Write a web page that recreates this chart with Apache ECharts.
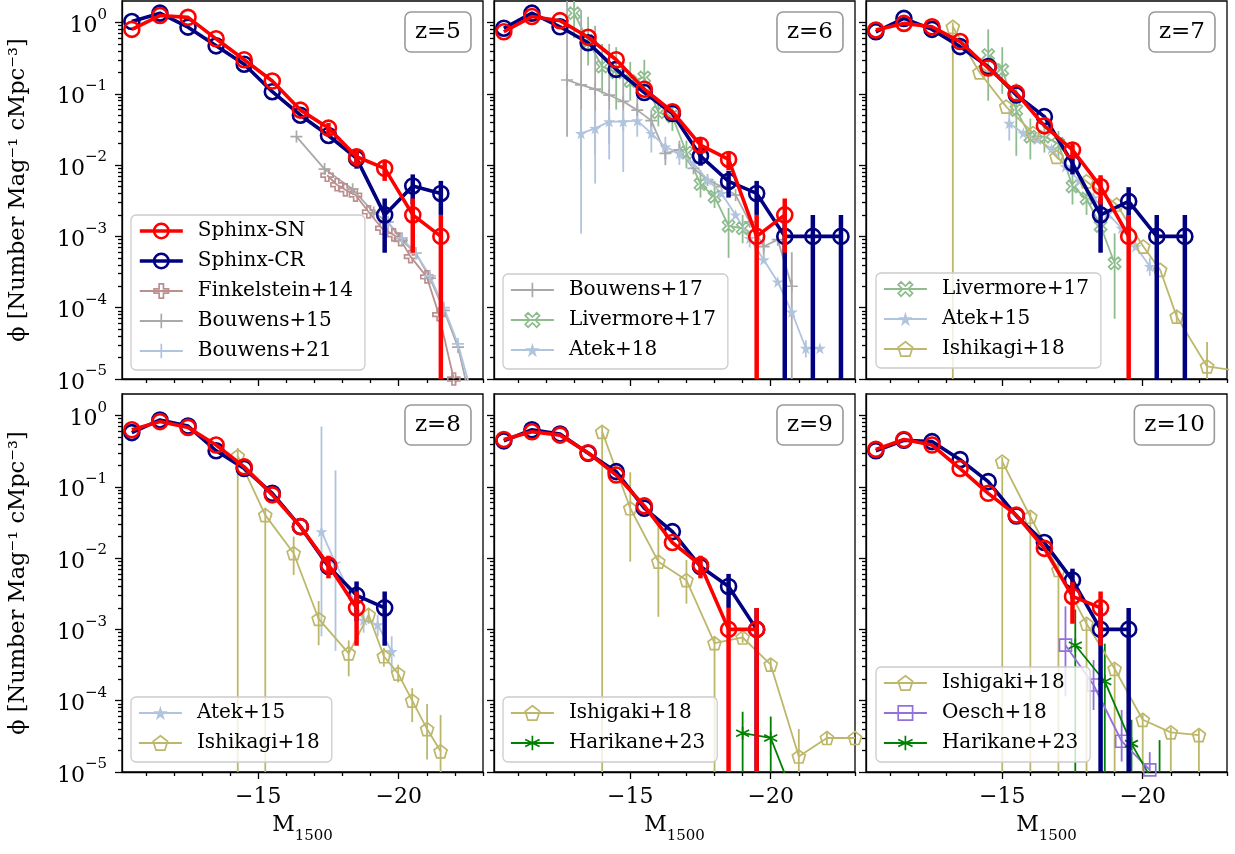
<!DOCTYPE html>
<html>
<head>
<meta charset="utf-8">
<script src="https://cdn.jsdelivr.net/npm/echarts@6/dist/echarts.min.js"></script>
<style>
  html, body { margin: 0; padding: 0; background: #fff; }
  #chart { width: 1235px; height: 854px; }
</style>
</head>
<body>
<div id="chart"></div>
<script>
// ---- data (phi in Number / mag / cMpc^3, errors as [lo, hi], lo = 0 means down to the floor) ----
const sphinxM = [-10.5, -11.5, -12.5, -13.5, -14.5, -15.5, -16.5, -17.5, -18.5, -19.5, -20.5, -21.5, -22.5];

const snPhi5 = [0.80, 1.25, 1.18, 0.59, 0.30, 0.151, 0.059, 0.033, 0.0131, 0.0090, 0.0020, 0.0010];
const snErr5 = [null, null, null, null, null, null, null, [0.027, 0.039], [0.0095, 0.0167], [0.006, 0.012], [0.00059, 0.0034], [0, 0.002]];
const crPhi5 = [1.03, 1.35, 0.86, 0.47, 0.26, 0.107, 0.050, 0.026, 0.0124, 0.0020, 0.0051, 0.0040];
const crErr5 = [null, null, null, null, null, null, null, null, [0.0089, 0.0159], [0.00059, 0.0034], [0.0028, 0.0074], [0.002, 0.006]];

const snPhi6 = [0.74, 1.21, 1.06, 0.62, 0.30, 0.116, 0.056, 0.019, 0.012, 0.0010, 0.0020];
const snErr6 = [null, null, null, null, null, null, null, [0.0147, 0.0233], [0.0085, 0.0155], [0, 0.002], [0.00059, 0.0034]];
const crPhi6 = [0.83, 1.35, 0.87, 0.52, 0.22, 0.104, 0.053, 0.0134, 0.0059, 0.0040, 0.0010, 0.0010, 0.0010];
const crErr6 = [null, null, null, null, null, null, null, [0.0098, 0.017], [0.0035, 0.0083], [0.002, 0.006], [0, 0.002], [0, 0.002], [0, 0.002]];

const snPhi7 = [0.785, 0.97, 0.87, 0.54, 0.23, 0.102, 0.0355, 0.0163, 0.0050, 0.0010];
const snErr7 = [null, null, null, null, null, null, null, [0.0123, 0.0203], [0.0028, 0.0072], [0, 0.002]];
const crPhi7 = [0.74, 1.14, 0.80, 0.458, 0.24, 0.096, 0.0478, 0.0106, 0.0020, 0.0031, 0.0010, 0.0010];
const crErr7 = [null, null, null, null, null, null, null, [0.0074, 0.0138], [0.00059, 0.0034], [0.0013, 0.0049], [0, 0.002], [0, 0.002]];

const snPhi8 = [0.63, 0.82, 0.68, 0.385, 0.19, 0.077, 0.0276, 0.0080, 0.0020];
const snErr8 = [null, null, null, null, null, null, null, [0.0052, 0.0108], [0.00059, 0.0034]];
const crPhi8 = [0.575, 0.865, 0.71, 0.32, 0.18, 0.081, 0.0276, 0.0076, 0.0030, 0.0020];
const crErr8 = [null, null, null, null, null, null, null, null, [0.0013, 0.0047], [0.00059, 0.0034]];

const snPhi9 = [0.46, 0.59, 0.53, 0.30, 0.146, 0.054, 0.0165, 0.0080, 0.0010, 0.0010];
const snErr9 = [null, null, null, null, null, null, null, [0.0052, 0.0108], [0, 0.002], [0, 0.002]];
const crPhi9 = [0.44, 0.63, 0.55, 0.295, 0.163, 0.050, 0.0235, 0.0076, 0.0040, 0.0010];
const crErr9 = [null, null, null, null, null, null, null, null, [0.002, 0.006], [0, 0.002]];

const snPhi10 = [0.335, 0.46, 0.385, 0.18, 0.081, 0.040, 0.0137, 0.0029, 0.0020];
const snErr10 = [null, null, null, null, null, null, null, [0.0012, 0.0046], [0.00059, 0.0034]];
const crPhi10 = [0.32, 0.45, 0.43, 0.24, 0.118, 0.039, 0.0165, 0.0049, 0.0010, 0.0010];
const crErr10 = [null, null, null, null, null, null, null, [0.0027, 0.0071], [0, 0.002], [0, 0.002]];

// z=5 observations
const fink14M = [-17.45, -17.8, -18.1, -18.46, -18.93, -19.4, -19.82, -20.06, -20.42, -21.0, -21.43, -21.96];
const fink14Phi = [0.0072, 0.0053, 0.0045, 0.0038, 0.0022, 0.0013, 0.00105, 0.0009, 0.00052, 0.00027, 0.00008, 0.00001];
const bouw15M = [-16.36, -17.36, -18.36, -19.11, -19.61, -20.11, -20.61, -21.11, -21.61, -22.11, -22.61];
const bouw15Phi = [0.0251, 0.0088, 0.0046, 0.00216, 0.00159, 0.00088, 0.00058, 0.00026, 0.000092, 0.000028, 0.000004];
const bouw21M = [-19.61, -20.11, -20.61, -21.11, -21.61, -22.11, -22.61];
const bouw21Phi = [0.0016, 0.00095, 0.00058, 0.00028, 0.0001, 0.000031, 0.000006];

// z=6 observations
const bouw17M = [-12.75, -13.25, -13.75, -14.25, -14.75, -15.25, -15.75, -16.25, -16.75, -17.25, -17.75, -18.25, -18.75, -19.25, -19.75, -20.25, -20.75];
const bouw17Phi = [0.156, 0.133, 0.116, 0.096, 0.078, 0.059, 0.042, 0.0146, 0.0163, 0.009, 0.0062, 0.005, 0.0038, 0.0016, 0.00072, 0.0009, 0.0002];
const bouw17Err = [[0.025, 3], [0.0085, 1.5], [0.014, 0.9], [0.02, 0.5], [0.03, 0.22], [0.04, 0.09], [0.03, 0.06], [0.01, 0.02], [0.012, 0.022], null, null, null, null, null, [0.0005, 0.001], null, [0.00001, 0.0006]];
const liv17M6 = [-13.0, -13.5, -14.0, -14.5, -15.0, -15.5, -16.0, -16.5, -17.0, -17.5, -18.0, -18.5, -19.0];
const liv17Phi6 = [1.35, 0.55, 0.24, 0.20, 0.15, 0.17, 0.055, 0.048, 0.015, 0.0054, 0.0036, 0.0014, 0.0013];
const liv17Err6 = [[0.6, 3], [0.25, 1.2], [0.1, 0.5], [0.06, 0.45], [0.08, 0.28], [0.1, 0.3], [0.035, 0.08], [0.03, 0.07], [0.009, 0.022], [0.0035, 0.0085], [0.0025, 0.006], [0.0005, 0.0025], [0.0008, 0.002]];
const atek18M = [-13.25, -13.75, -14.25, -14.75, -15.25, -15.75, -16.25, -16.75, -17.25, -17.75, -18.25, -18.75, -19.25, -19.75, -20.25, -20.75, -21.25, -21.75];
const atek18Phi = [0.0278, 0.0327, 0.0407, 0.0407, 0.042, 0.0278, 0.018, 0.0146, 0.0106, 0.0062, 0.004, 0.002, 0.00094, 0.00047, 0.00023, 0.000087, 0.000027, 0.000027];
const atek18Err = [[0.0011, 0.06], [0.0055, 0.058], [0.012, 0.06], [0.008, 0.058], [0.025, 0.065], [0.015, 0.04], [0.012, 0.025], [0.01, 0.02], null, null, null, null, [0.0007, 0.0012], null, null, null, [0.00002, 0.000035], null];

// z=7 observations
const liv17M7 = [-14.5, -15.0, -15.5, -16.0, -16.5, -17.0, -17.5, -18.0, -18.5, -19.0];
const liv17Phi7 = [0.35, 0.216, 0.059, 0.025, 0.025, 0.02, 0.005, 0.0034, 0.0014, 0.00042];
const liv17Err7 = [[0.08, 0.8], [0.1, 0.45], [0.0135, 0.14], [0.012, 0.045], [0.015, 0.035], [0.012, 0.03], [0.0028, 0.0085], [0.002, 0.0045], [0.0007, 0.0025], [0.00007, 0.0011]];
const atek15M7 = [-15.25, -15.75, -16.25, -16.75, -17.25, -17.75, -18.25, -18.75, -19.25, -19.75, -20.25];
const atek15Phi7 = [0.0386, 0.028, 0.023, 0.017, 0.0095, 0.006, 0.0035, 0.0021, 0.0013, 0.00072, 0.00038];
const atek15Err7 = [[0.022, 0.06], null, null, null, null, null, null, null, null, null, [0.00028, 0.0005]];
const ishi18M7 = [-13.24, -14.19, -15.14, -16.1, -16.93, -18.0, -19.07, -20.02, -20.62, -21.21, -22.29, -23.4];
const ishi18Phi7 = [0.87, 0.20, 0.066, 0.028, 0.013, 0.0059, 0.0028, 0.00072, 0.00034, 0.000075, 0.000015, 0.000013];
const ishi18Err7 = [[0, 1.0], null, null, null, null, null, null, null, null, [0.00006, 0.00009], [0.000007, 0.000033], null];

// z=8 observations
const atek15M8 = [-17.25, -17.75, -18.75, -19.25, -19.75];
const atek15Phi8 = [0.0235, 0.0085, 0.00135, 0.00116, 0.00049];
const atek15Err8 = [[0.0008, 0.7], [0.0005, 0.17], [0.0009, 0.0018], [0.0008, 0.0016], [0.00025, 0.0008]];
const ishi18M8 = [-14.27, -15.25, -16.26, -17.15, -18.22, -18.93, -19.47, -19.98, -20.48, -21.01, -21.49];
const ishi18Phi8 = [0.27, 0.040, 0.0117, 0.0014, 0.00046, 0.0016, 0.00042, 0.00024, 0.0001, 0.00004, 0.0000195];
const ishi18Err8 = [[0, 0.35], [0, 0.05], [0.0058, 0.02], [0.0006, 0.0025], [0.00022, 0.0007], [0.0012, 0.002], [0.0003, 0.00055], [0.00018, 0.00032], [0.00005, 0.00015], [0.000015, 0.00009], [0, 0.000063]];

// z=9 observations
const ishi18M9 = [-14, -15, -16, -17, -18, -19, -20, -21, -22, -23];
const ishi18Phi9 = [0.59, 0.050, 0.0089, 0.0049, 0.00064, 0.00077, 0.00032, 0.0000165, 0.00003, 0.00003];
const ishi18Err9 = [[0, 0.7], [0.0089, 0.16], [0.0015, 0.031], [0.0023, 0.0094], [0, 0.0008], [0.00065, 0.0009], [0.00026, 0.00039], [0, 0.00004], [0.000024, 0.000036], null];
const hari23M9 = [-19.0, -20.0, -21.0];
const hari23Phi9 = [0.000035, 0.00003, 0.000003];
const hari23Err9 = [[0, 0.00007], [0, 0.00006], [0, 0.00001]];

// z=10 observations
const ishi18M10 = [-15, -16, -17, -18, -19, -20, -21, -22];
const ishi18Phi10 = [0.225, 0.038, 0.0068, 0.0012, 0.00028, 0.000054, 0.000036, 0.000033];
const ishi18Err10 = [[0, 0.26], [0, 0.045], [0, 0.008], [0, 0.0014], [0, 0.00033], [0, 0.000065], [0, 0.000042], [0, 0.000039]];
const oesch18M = [-17.25, -18.25, -19.25, -20.25];
const oesch18Phi = [0.0006, 0.000166, 0.000027, 0.0000107];
const oesch18Err = [[0.000115, 0.0021], [0.000074, 0.00037], [0.000014, 0.000074], [0, 0.000019]];
const hari23M10 = [-17.6, -18.65, -19.6, -20.6];
const hari23Phi10 = [0.0006, 0.000186, 0.000025, 0.000005];
const hari23Err10 = [[0, 0.0019], [0, 0.00063], [0, 0.000054], [0, 0.000028]];

const zLabels = ['z=5', 'z=6', 'z=7', 'z=8', 'z=9', 'z=10'];
const xMajor = [-15, -20];
const yMajor = [-5, -4, -3, -2, -1, 0];

// ---- layout / styles ----
const FONT = "'DejaVu Serif', serif";
const panels = [
  { left: 122, top: 1 }, { left: 494, top: 1 }, { left: 866, top: 1 },
  { left: 122, top: 394 }, { left: 494, top: 394 }, { left: 866, top: 394 }
];
const PW = 361, PH = 378;
const XMIN = -23.0, XMAX = -10.15, YMIN = -5, YMAX = Math.log10(2);

const C = {
  sn: '#ff0000', cr: '#000080', fink: '#bc8f8f', bouw: '#a9a9a9', lsb: '#b0c4de',
  liv: '#8fbc8f', ishi: '#bdb76b', hari: '#008000', oesch: '#9370db'
};
const SYM = {
  pent: 'path://M50,0 L97.55,34.55 L79.39,90.45 L20.61,90.45 L2.45,34.55 Z',
  star: 'path://M50,0 L61.2,34.5 L97.6,34.5 L68.2,55.9 L79.4,90.5 L50,69.1 L20.6,90.5 L31.8,55.9 L2.4,34.5 L38.8,34.5 Z',
  plusThick: 'path://M35,0 H65 V35 H100 V65 H65 V100 H35 V65 H0 V35 H35 Z',
  xThick: 'path://M20,0 L50,30 L80,0 L100,20 L70,50 L100,80 L80,100 L50,70 L20,100 L0,80 L30,50 L0,20 Z',
  plus: 'path://M50,0 V100 M0,50 H100',
  aster: 'path://M50,0 V100 M6.7,25 L93.3,75 M6.7,75 L93.3,25'
};

const lg = v => Math.log10(v);

const xMinor = [];
for (let m = -11; m >= -23; m--) if (m !== -15 && m !== -20) xMinor.push(m);
const yMinor = [];
for (let d = -5; d <= 0; d++) for (let k = 2; k <= 9; k++) { const v = lg(k) + d; if (v < YMAX) yMinor.push(v); }

const axisLineStyle = { color: '#000', width: 1.3 };

const grids = panels.map(p => ({
  left: p.left, top: p.top, width: PW, height: PH,
  show: true, borderColor: '#000', borderWidth: 1.3, backgroundColor: 'transparent'
}));

const xAxes = [], yAxes = [];
panels.forEach((p, i) => {
  const bottomRow = i >= 3;
  xAxes.push({
    gridIndex: i, type: 'value', min: XMIN, max: XMAX, inverse: true, position: 'bottom',
    axisLine: { show: true, onZero: false, lineStyle: axisLineStyle },
    axisTick: { show: true, customValues: xMajor, length: 7, lineStyle: axisLineStyle },
    axisLabel: {
      show: bottomRow, customValues: xMajor, margin: 14,
      formatter: v => '\u2212' + Math.abs(v),
      fontFamily: FONT, fontSize: 22, color: '#000'
    },
    splitLine: { show: false },
    name: bottomRow ? '{m|M}{s|1500}' : '',
    nameLocation: 'middle', nameGap: 42,
    nameTextStyle: {
      fontFamily: FONT, color: '#000',
      rich: {
        m: { fontFamily: FONT, fontSize: 22, lineHeight: 30, verticalAlign: 'top', color: '#000' },
        s: { fontFamily: FONT, fontSize: 15, lineHeight: 15, verticalAlign: 'bottom', color: '#000' }
      }
    }
  });
  xAxes.push({
    gridIndex: i, type: 'value', min: XMIN, max: XMAX, inverse: true, position: 'bottom',
    axisLine: { show: false, onZero: false },
    axisTick: { show: true, customValues: xMinor, length: 4, lineStyle: axisLineStyle },
    axisLabel: { show: false }, splitLine: { show: false }
  });
  const firstCol = i % 3 === 0;
  yAxes.push({
    gridIndex: i, type: 'value', min: YMIN, max: YMAX, position: 'left',
    axisLine: { show: true, onZero: false, lineStyle: axisLineStyle },
    axisTick: { show: true, customValues: yMajor, length: 7, lineStyle: axisLineStyle },
    axisLabel: {
      show: firstCol, customValues: yMajor, margin: 15,
      formatter: v => '{b|10}{s|' + (v < 0 ? '\u2212' + Math.abs(v) : v) + '}',
      rich: {
        b: { fontFamily: FONT, fontSize: 22, lineHeight: 30, verticalAlign: 'bottom', color: '#000' },
        s: { fontFamily: FONT, fontSize: 15, lineHeight: 15, verticalAlign: 'top', color: '#000' }
      }
    },
    splitLine: { show: false },
    name: firstCol ? '\u03d5 [Number Mag\u207b\u00b9 cMpc\u207b\u00b3]' : '',
    nameLocation: 'middle', nameGap: 92, nameRotate: 90,
    nameTextStyle: { fontFamily: FONT, fontSize: 22.5, color: '#000' }
  });
  yAxes.push({
    gridIndex: i, type: 'value', min: YMIN, max: YMAX, position: 'left',
    axisLine: { show: false, onZero: false },
    axisTick: { show: true, customValues: yMinor, length: 4, lineStyle: axisLineStyle },
    axisLabel: { show: false }, splitLine: { show: false }
  });
});

// ---- series builders ----
function errSeries(p, M, errs, color, width, z) {
  const data = [];
  errs.forEach((e, i) => {
    if (!e) return;
    data.push([M[i], e[0] > 0 ? lg(e[0]) : YMIN - 2, lg(e[1])]);
  });
  return {
    type: 'custom', xAxisIndex: 2 * p, yAxisIndex: 2 * p, z, silent: true,
    encode: { x: 0, y: [1, 2] },
    data,
    renderItem: (params, api) => {
      const cs = params.coordSys;
      const a = api.coord([api.value(0), api.value(1)]);
      const b = api.coord([api.value(0), api.value(2)]);
      if (a[0] < cs.x - 1 || a[0] > cs.x + cs.width + 1) return null;
      const clampY = y => Math.min(Math.max(y, cs.y), cs.y + cs.height);
      return {
        type: 'line',
        shape: { x1: a[0], y1: clampY(a[1]), x2: a[0], y2: clampY(b[1]) },
        style: { stroke: color, lineWidth: width }
      };
    }
  };
}

function lineSeries(name, p, M, phi, opt) {
  const filled = !!opt.filled;
  return {
    name, type: 'line', xAxisIndex: 2 * p, yAxisIndex: 2 * p, z: opt.z, silent: true,
    data: phi.map((v, i) => [M[i], lg(v)]),
    symbol: opt.symbol, symbolSize: opt.size, showAllSymbol: true, clip: true,
    lineStyle: { color: opt.color, width: opt.lw },
    itemStyle: filled
      ? { color: opt.color, borderWidth: 0 }
      : { color: 'rgba(255,255,255,0)', borderColor: opt.color, borderWidth: opt.bw },
    emphasis: { disabled: true }
  };
}

const series = [];
function obs(name, p, M, phi, errs, color, symbol, size, filled) {
  if (errs) series.push(errSeries(p, M, errs, color, 1.8, 2));
  series.push(lineSeries(name, p, M, phi, { color, symbol, size, filled, lw: 1.8, bw: 1.7, z: 2 }));
}
function sphinx(p, crPhi, crErr, snPhi, snErr) {
  series.push(errSeries(p, sphinxM, crErr, C.cr, 4.5, 4));
  series.push(lineSeries('Sphinx-CR', p, sphinxM, crPhi, { color: C.cr, symbol: 'circle', size: 15, lw: 3.6, bw: 2.6, z: 4 }));
  series.push(errSeries(p, sphinxM, snErr, C.sn, 4.5, 5));
  series.push(lineSeries('Sphinx-SN', p, sphinxM, snPhi, { color: C.sn, symbol: 'circle', size: 15, lw: 3.6, bw: 2.6, z: 5 }));
}

// z=5
obs('Finkelstein+14', 0, fink14M, fink14Phi, null, C.fink, SYM.plusThick, 12, false);
obs('Bouwens+15', 0, bouw15M, bouw15Phi, null, C.bouw, SYM.plus, 12, false);
obs('Bouwens+21', 0, bouw21M, bouw21Phi, null, C.lsb, SYM.plus, 12, false);
sphinx(0, crPhi5, crErr5, snPhi5, snErr5);
// z=6
obs('Bouwens+17', 1, bouw17M, bouw17Phi, bouw17Err, C.bouw, SYM.plus, 12, false);
obs('Livermore+17', 1, liv17M6, liv17Phi6, liv17Err6, C.liv, SYM.xThick, 12, false);
obs('Atek+18', 1, atek18M, atek18Phi, atek18Err, C.lsb, SYM.star, 12, true);
sphinx(1, crPhi6, crErr6, snPhi6, snErr6);
// z=7
obs('Livermore+17', 2, liv17M7, liv17Phi7, liv17Err7, C.liv, SYM.xThick, 12, false);
obs('Atek+15', 2, atek15M7, atek15Phi7, atek15Err7, C.lsb, SYM.star, 12, true);
obs('Ishikagi+18', 2, ishi18M7, ishi18Phi7, ishi18Err7, C.ishi, SYM.pent, 13, false);
sphinx(2, crPhi7, crErr7, snPhi7, snErr7);
// z=8
obs('Atek+15', 3, atek15M8, atek15Phi8, atek15Err8, C.lsb, SYM.star, 12, true);
obs('Ishikagi+18', 3, ishi18M8, ishi18Phi8, ishi18Err8, C.ishi, SYM.pent, 13, false);
sphinx(3, crPhi8, crErr8, snPhi8, snErr8);
// z=9
obs('Ishigaki+18', 4, ishi18M9, ishi18Phi9, ishi18Err9, C.ishi, SYM.pent, 13, false);
obs('Harikane+23', 4, hari23M9, hari23Phi9, hari23Err9, C.hari, SYM.aster, 13, false);
sphinx(4, crPhi9, crErr9, snPhi9, snErr9);
// z=10
obs('Ishigaki+18', 5, ishi18M10, ishi18Phi10, ishi18Err10, C.ishi, SYM.pent, 13, false);
obs('Oesch+18', 5, oesch18M, oesch18Phi, oesch18Err, C.oesch, 'rect', 12, false);
obs('Harikane+23', 5, hari23M10, hari23Phi10, hari23Err10, C.hari, SYM.aster, 13, false);
sphinx(5, crPhi10, crErr10, snPhi10, snErr10);

// ---- legends & panel labels ----
const legendBase = {
  orient: 'vertical', itemWidth: 43, itemHeight: 18, itemGap: 10,
  padding: [6, 12, 9, 7], backgroundColor: 'rgba(255,255,255,0.8)',
  borderColor: '#cccccc', borderWidth: 1.3, borderRadius: 5, selectedMode: false,
  lineStyle: { width: 'inherit' },
  itemStyle: { borderWidth: 'inherit' },
  textStyle: { fontFamily: FONT, fontSize: 20, color: '#000', lineHeight: 20, padding: [0, 0, 0, 10] }
};
const legendSpecs = [
  { left: 131, top: 215, data: ['Sphinx-SN', 'Sphinx-CR', 'Finkelstein+14', 'Bouwens+15', 'Bouwens+21'] },
  { left: 503, top: 274, data: ['Bouwens+17', 'Livermore+17', 'Atek+18'] },
  { left: 876, top: 273, data: ['Livermore+17', 'Atek+15', 'Ishikagi+18'] },
  { left: 131, top: 697, data: ['Atek+15', 'Ishikagi+18'] },
  { left: 503, top: 697, data: ['Ishigaki+18', 'Harikane+23'] },
  { left: 876, top: 667, data: ['Ishigaki+18', 'Oesch+18', 'Harikane+23'] }
];
const legends = legendSpecs.map(s => Object.assign({}, legendBase, s));

const titleRights = [764, 392, 20, 764, 392, 20];
const titles = zLabels.map((t, i) => ({
  text: t, right: titleRights[i], top: i < 3 ? 12 : 405,
  padding: [7, 10, 7, 10], borderColor: '#999999', borderWidth: 1.6, borderRadius: 6,
  backgroundColor: '#ffffff',
  textStyle: { fontFamily: FONT, fontSize: 23, fontWeight: 'normal', color: '#000', lineHeight: 26 }
}));

const chart = echarts.init(document.getElementById('chart'), null, { renderer: 'canvas' });
chart.setOption({
  animation: false,
  backgroundColor: '#fff',
  title: titles,
  legend: legends,
  grid: grids,
  xAxis: xAxes,
  yAxis: yAxes,
  series
});
</script>
</body>
</html>
